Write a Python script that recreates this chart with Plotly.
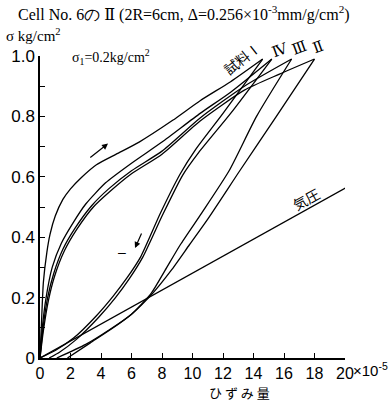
import plotly.graph_objects as go

# Stress–strain hysteresis loops, Cell No.6 II (strain in 1e-5, stress in kg/cm^2)
# Loading branches (stress rising)
load_I_x = [0, 0.1, 0.22, 0.45, 0.66, 1.0, 1.5, 2.0, 2.7, 3.7, 5.0, 6.5, 8.7, 10.5, 12.5, 14.6]
load_I_y = [0, 0.12, 0.25, 0.35, 0.41, 0.47, 0.525, 0.56, 0.597, 0.64, 0.675, 0.715, 0.787, 0.852, 0.915, 0.99]

load_IV_x = [0, 0.15, 0.4, 0.8, 1.4, 2.2, 3.0, 4.3, 6.0, 8.0, 10.5, 12.5, 15.2]
load_IV_y = [0, 0.1, 0.2, 0.3, 0.38, 0.45, 0.51, 0.58, 0.645, 0.715, 0.81, 0.88, 0.99]

load_III_x = [0, 0.2, 0.5, 0.9, 1.5, 2.3, 3.4, 4.5, 6.0, 8.0, 10.5, 13.4, 16.5]
load_III_y = [0, 0.1, 0.2, 0.28, 0.36, 0.43, 0.505, 0.56, 0.62, 0.685, 0.795, 0.9, 0.99]

load_II_x = [0, 0.22, 0.55, 0.95, 1.6, 2.4, 3.5, 4.6, 6.0, 8.0, 10.5, 13.4, 15.7, 18.0]
load_II_y = [0, 0.09, 0.19, 0.27, 0.355, 0.425, 0.5, 0.552, 0.61, 0.675, 0.785, 0.887, 0.94, 0.99]

# Unloading branches (stress falling)
unload_I_x = [14.6, 12.0, 10.2, 9.2, 7.9, 6.6, 5.7, 4.8, 3.7, 2.2, 1.0, 0]
unload_I_y = [0.99, 0.81, 0.69, 0.61, 0.48, 0.335, 0.265, 0.205, 0.14, 0.066, 0.025, 0]

unload_IV_x = [15.2, 12.5, 10.4, 9.35, 8.05, 6.75, 5.85, 4.95, 3.85, 2.35, 1.3, 0.6]
unload_IV_y = [0.99, 0.81, 0.68, 0.605, 0.475, 0.335, 0.262, 0.2, 0.135, 0.06, 0.02, 0]

unload_III_x = [16.5, 14.2, 12.4, 10.6, 9.2, 8.2, 7.3, 6.0, 4.6, 3.0, 1.1]
unload_III_y = [0.99, 0.80, 0.62, 0.48, 0.375, 0.29, 0.215, 0.145, 0.095, 0.045, 0]

unload_II_x = [18.0, 15.5, 13.1, 11.0, 9.8, 8.6, 7.4, 6.0, 4.8, 3.3, 1.8]
unload_II_y = [0.99, 0.80, 0.62, 0.46, 0.375, 0.29, 0.215, 0.145, 0.1, 0.05, 0]

# Air pressure reference line
kiatsu_x = [0, 20.1]
kiatsu_y = [0, 0.565]

x_ticks = [0, 2, 4, 6, 8, 10, 12, 14, 16, 18, 20]
x_tick_text = ["0", "2", "4", "6", "8", "10", "12", "14", "16", "18", "20"]
y_ticks = [0, 0.2, 0.4, 0.6, 0.8, 1.0]
y_tick_text = ["0", "0.2", "0.4", "0.6", "0.8", "1.0"]

series = [
    (load_I_x, load_I_y), (load_IV_x, load_IV_y),
    (load_III_x, load_III_y), (load_II_x, load_II_y),
    (unload_I_x, unload_I_y), (unload_IV_x, unload_IV_y),
    (unload_III_x, unload_III_y), (unload_II_x, unload_II_y),
    (kiatsu_x, kiatsu_y),
]

fig = go.Figure()
for xs, ys in series:
    fig.add_trace(go.Scatter(
        x=xs, y=ys, mode="lines",
        line=dict(color="black", width=1.3, shape="spline", smoothing=0.6),
        showlegend=False, hoverinfo="skip",
    ))

W, H = 390, 401
L, R, T, B = 40, 45, 56, 43

def px(x, y):
    # pixel position -> paper coordinates
    return (x - L) / (W - L - R), (H - B - y) / (H - T - B)

serif = "Liberation Serif, DejaVu Serif, serif"
narrow = "Liberation Sans Narrow, Liberation Sans, Arial Narrow, sans-serif"
cjk = "Noto Sans CJK JP, sans-serif"

annotations = []

def text(xp, yp, s, size=14, font=serif, xanchor="left", yanchor="middle", angle=0):
    ax_, ay_ = px(xp, yp)
    annotations.append(dict(
        x=ax_, y=ay_, xref="paper", yref="paper", text=s, showarrow=False,
        xanchor=xanchor, yanchor=yanchor, textangle=angle,
        font=dict(family=font, size=size, color="black"),
    ))

text(16, 14, "Cell No. 6の Ⅱ (2R=6cm, Δ=0.256×10<sup>-3</sup>mm/g/cm<sup>2</sup>)", size=16)
text(4, 35, "σ kg/cm<sup>2</sup>", size=15)
text(70, 57, "σ<sub>1</sub>=0.2kg/cm<sup>2</sup>", size=14)
text(242, 58, "試料Ⅰ", size=14, font=cjk, xanchor="center", angle=-38)
text(280, 50, "Ⅳ", size=15, xanchor="center", angle=-20)
text(299, 48, "Ⅲ", size=15, xanchor="center", angle=-20)
text(318, 47, "Ⅱ", size=15, xanchor="center", angle=-20)
text(306, 199, "気圧", size=14, font=cjk, xanchor="center", angle=-29)
text(240, 392, "ひ ず み 量", size=13, font=cjk, xanchor="center")
text(351, 369, "×10<sup>-5</sup>", size=15, font=narrow, xanchor="left")
text(122, 252, "–", size=14, font=narrow, xanchor="center")

# direction arrows on the loops
annotations.append(dict(x=4.46, y=0.71, ax=3.2, ay=0.66, xref="x", yref="y",
                        axref="x", ayref="y", showarrow=True, arrowhead=2,
                        arrowsize=1, arrowwidth=1.2, arrowcolor="black", text=""))
annotations.append(dict(x=6.23, y=0.364, ax=6.7, ay=0.417, xref="x", yref="y",
                        axref="x", ayref="y", showarrow=True, arrowhead=2,
                        arrowsize=1, arrowwidth=1.2, arrowcolor="black", text=""))

fig.update_layout(
    width=W, height=H,
    margin=dict(l=L, r=R, t=T, b=B, pad=0),
    paper_bgcolor="white", plot_bgcolor="white",
    annotations=annotations,
    xaxis=dict(
        range=[0, 20], tickvals=x_ticks, ticktext=x_tick_text,
        ticks="inside", ticklen=5, tickwidth=1.2, tickcolor="black",
        showline=True, linecolor="black", linewidth=1.5,
        showgrid=False, zeroline=False,
        tickfont=dict(family=narrow, size=16, color="black"),
    ),
    yaxis=dict(
        range=[0, 1.0], tickvals=y_ticks, ticktext=y_tick_text,
        ticks="inside", ticklen=5, tickwidth=1.2, tickcolor="black",
        minor=dict(dtick=0.1, ticks="inside", ticklen=5, tickwidth=1.2, tickcolor="black"),
        showline=True, linecolor="black", linewidth=1.5,
        showgrid=False, zeroline=False,
        tickfont=dict(family=narrow, size=17, color="black"),
    ),
)

fig.write_html("out.html")
